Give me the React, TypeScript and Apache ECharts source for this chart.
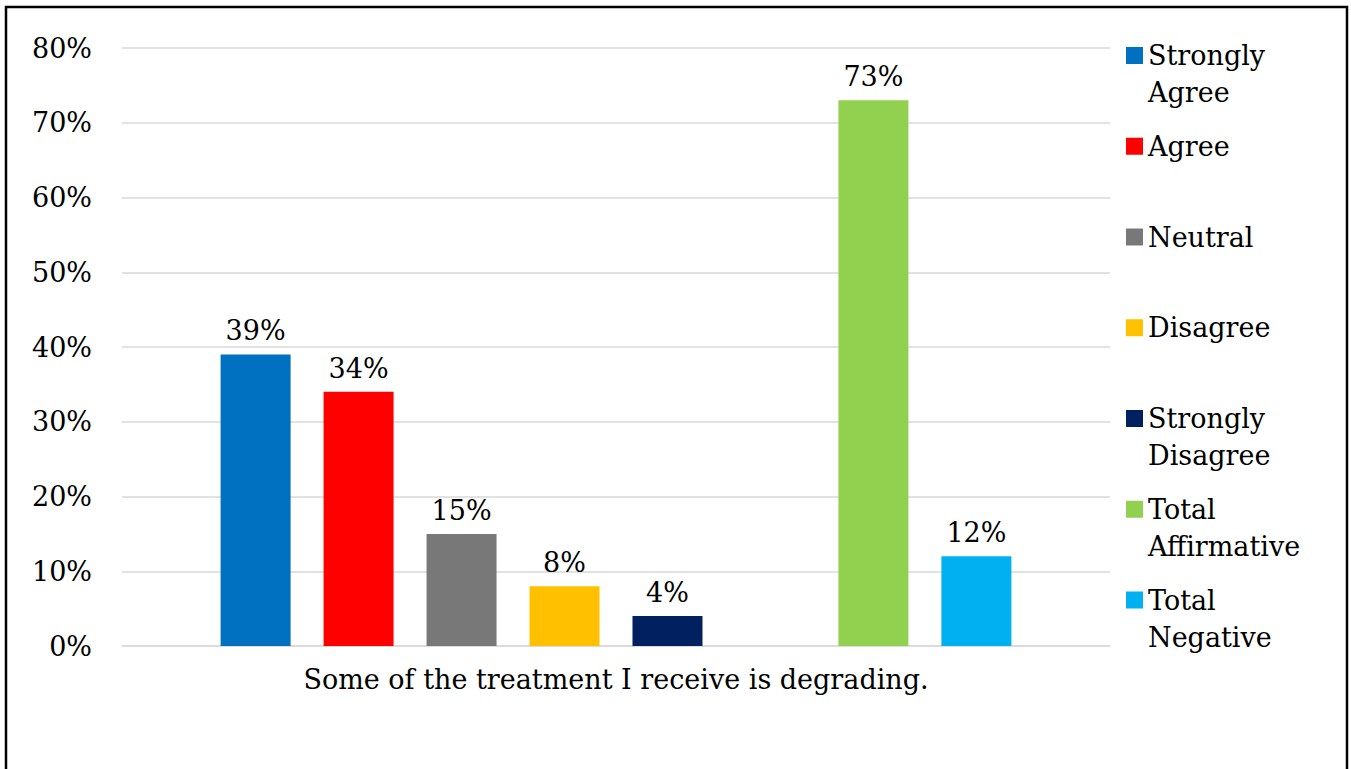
import React, { useEffect, useRef } from "react";
import * as echarts from "echarts";

const categories = ["Some of the treatment I receive is degrading."];
const seriesNames = [
  "Strongly Agree",
  "Agree",
  "Neutral",
  "Disagree",
  "Strongly Disagree",
  "",
  "Total Affirmative",
  "Total Negative",
];
const seriesValues: (number | null)[] = [39, 34, 15, 8, 4, null, 73, 12];
const seriesColors = [
  "#0070C0",
  "#FF0000",
  "#787878",
  "#FFC000",
  "#002060",
  "#FFFFFF",
  "#92D050",
  "#00B0F0",
];
const legendNames = [
  "Strongly Agree",
  "Agree",
  "Neutral",
  "Disagree",
  "Strongly Disagree",
  "Total Affirmative",
  "Total Negative",
];
const twoLineLegend = ["Strongly Agree", "Strongly Disagree", "Total Affirmative", "Total Negative"];
const yMin = 0;
const yMax = 80;
const yInterval = 10;

const FONT = "DejaVu Serif";
const FS = 27;
const LH = 37;

export default function App() {
  const ref = useRef<HTMLDivElement>(null);

  useEffect(() => {
    if (!ref.current) return;
    const chart = echarts.init(ref.current, null, { renderer: "svg" });

    const legendTop0 = 55.5;
    const legendStep = 90.75;
    const legends = legendNames.map((name, k) => {
      const two = twoLineLegend.includes(name);
      const cy = legendTop0 + k * legendStep;
      return {
        data: [name],
        orient: "vertical",
        left: 1126,
        top: two ? cy - 1.5 * LH : cy - LH / 2,
        padding: 0,
        itemWidth: 17,
        itemHeight: 17,
        icon: "rect",
        selectedMode: false,
        formatter: (n: string) => (two ? "\n" + n.replace(" ", "\n") : n),
        textStyle: {
          fontFamily: FONT,
          fontSize: FS,
          color: "#000",
          lineHeight: LH,
        },
      };
    });

    const series = seriesNames.map((name, i) => ({
      name,
      type: "bar",
      barWidth: 70,
      barGap: "47.1%",
      data: [seriesValues[i] === null ? "-" : seriesValues[i]],
      itemStyle: { color: seriesColors[i] },
      label: {
        show: seriesValues[i] !== null,
        position: "top",
        distance: 10,
        formatter: "{c}%",
        fontFamily: FONT,
        fontSize: FS,
        color: "#000",
      },
    }));

    chart.setOption({
      animation: false,
      backgroundColor: "#fff",
      textStyle: { fontFamily: FONT },
      grid: {
        left: 122,
        right: 241,
        top: 48,
        bottom: 123,
        containLabel: false,
        outerBoundsMode: "none",
      },
      legend: legends,
      xAxis: {
        type: "category",
        data: categories,
        axisLine: { show: true, lineStyle: { color: "#d9d9d9", width: 1.5 } },
        axisTick: { show: false },
        axisLabel: {
          margin: 20,
          fontFamily: FONT,
          fontSize: FS,
          color: "#000",
        },
      },
      yAxis: {
        type: "value",
        min: yMin,
        max: yMax,
        interval: yInterval,
        axisLine: { show: false },
        axisTick: { show: false },
        splitLine: { lineStyle: { color: "#d9d9d9", width: 1.5 } },
        axisLabel: {
          margin: 30,
          formatter: "{value}%",
          fontFamily: FONT,
          fontSize: FS,
          color: "#000",
        },
      },
      series,
      graphic: [
        {
          type: "rect",
          shape: { x: 6, y: 7, width: 1341, height: 820 },
          style: { fill: "none", stroke: "#000", lineWidth: 2.5 },
          silent: true,
        },
      ],
    });

    return () => chart.dispose();
  }, []);

  return (
    <div
      ref={ref}
      style={{ position: "absolute", left: 0, top: 0, width: 1351, height: 769 }}
    />
  );
}
